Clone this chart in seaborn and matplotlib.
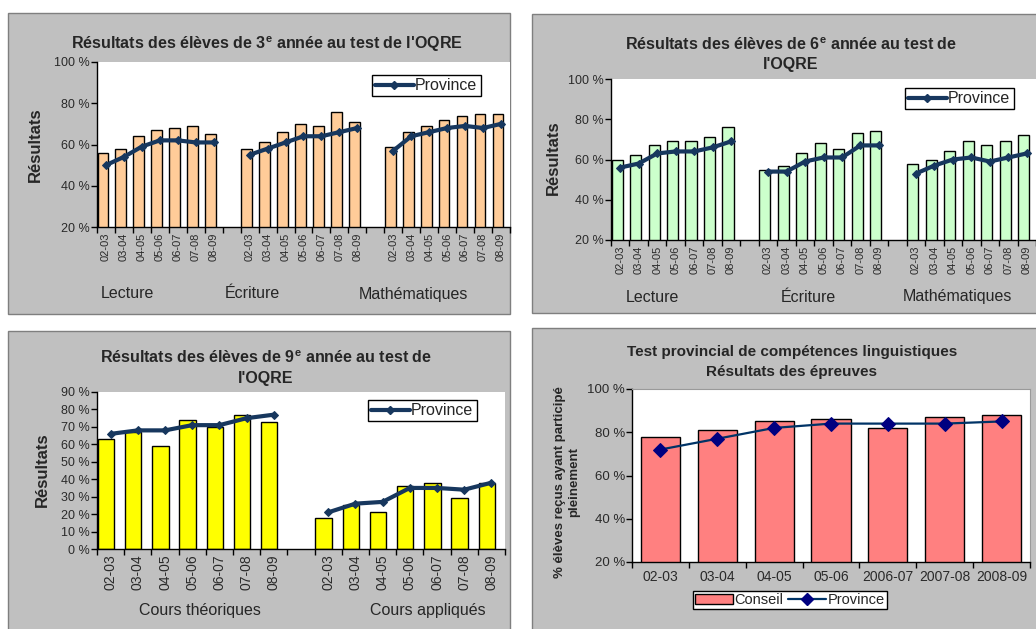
import matplotlib
matplotlib.use("Agg")
import matplotlib.pyplot as plt
import seaborn as sns
import pandas as pd
from matplotlib.patches import Rectangle, Patch
from matplotlib.lines import Line2D
from matplotlib.ticker import FuncFormatter

sns.set_style("ticks")
plt.rcParams["font.family"] = ["Liberation Sans", "DejaVu Sans"]
plt.rcParams["mathtext.fontset"] = "custom"
plt.rcParams["mathtext.rm"] = "Liberation Sans"
plt.rcParams["mathtext.bf"] = "Liberation Sans:bold"

W, H = 1036, 629
NAVY = "#17375E"
GRAY = "#C0C0C0"

years = ["02-03", "03-04", "04-05", "05-06", "06-07", "07-08", "08-09"]

# 3e annee
groups3 = ["Lecture", "Écriture", "Mathématiques"]
lecture3 = [56, 58, 64, 67, 68, 69, 65]
ecriture3 = [58, 61, 66, 70, 69, 76, 71]
maths3 = [59, 66, 69, 72, 74, 75, 75]
lecture3_prov = [50, 54, 59, 62, 62, 61, 61]
ecriture3_prov = [55, 58, 61, 64, 64, 66, 68]
maths3_prov = [57, 64, 66, 68, 69, 68, 70]

# 6e annee
lecture6 = [60, 62, 67, 69, 69, 71, 76]
ecriture6 = [55, 57, 63, 68, 65, 73, 74]
maths6 = [58, 60, 64, 69, 67, 69, 72]
lecture6_prov = [56, 58, 63, 64, 64, 66, 69]
ecriture6_prov = [54, 54, 59, 61, 61, 67, 67]
maths6_prov = [53, 57, 60, 61, 59, 61, 63]

# 9e annee
groups9 = ["Cours théoriques", "Cours appliqués"]
theo9 = [63, 67, 59, 74, 70, 77, 73]
appl9 = [18, 25, 21, 36, 38, 29, 38]
theo9_prov = [66, 68, 68, 71, 71, 75, 77]
appl9_prov = [21, 26, 27, 35, 35, 34, 38]

# TPCL
years_tpcl = ["02-03", "03-04", "04-05", "05-06", "2006-07", "2007-08", "2008-09"]
tpcl_conseil = [78, 81, 85, 86, 82, 87, 88]
tpcl_province = [72, 77, 82, 84, 84, 84, 85]

fig = plt.figure(figsize=(W / 100, H / 100), dpi=100)
fig.patch.set_facecolor("white")


def px_rect(l, t, r, b):
    return [l / W, 1 - b / H, (r - l) / W, (b - t) / H]


def panel_box(l, t, r, b):
    fig.add_artist(Rectangle((l / W, 1 - b / H), (r - l) / W, (b - t) / H,
                             transform=fig.transFigure, facecolor=GRAY,
                             edgecolor="#7F7F7F", linewidth=1, zorder=-10))


def ftext(x, y, s, **kw):
    fig.text(x / W, 1 - y / H, s, ha="center", va="center", **kw)


def pct(v, _):
    return f"{v:.0f} %"


def style_axes(ax, ylim, ystep, ytick_fs):
    ax.set_facecolor("white")
    ax.set_ylim(*ylim)
    ax.set_yticks(range(ylim[0], ylim[1] + 1, ystep))
    ax.yaxis.set_major_formatter(FuncFormatter(pct))
    ax.tick_params(axis="y", length=4, width=1, color="black", labelsize=ytick_fs,
                   labelcolor="#2A2A2A", pad=1)
    for s in ["top", "right"]:
        ax.spines[s].set_visible(False)
    for s in ["left", "bottom"]:
        ax.spines[s].set_color("black")
        ax.spines[s].set_linewidth(1)
    ax.set_xlabel("")
    ax.set_ylabel("")


def grouped_panel(rect, bar_lists, prov_lists, color, ylim, ystep, xlim,
                  xtick_fs, legend_xy):
    ax = fig.add_axes(rect)
    rows = []
    for gi, (bv, pv) in enumerate(zip(bar_lists, prov_lists)):
        for i, yr in enumerate(years):
            rows.append({"group": gi, "pos": gi * 8 + i, "year": yr,
                         "conseil": bv[i], "province": pv[i]})
    df = pd.DataFrame(rows)
    df["bar_x"] = df["pos"] - 0.17
    sns.barplot(data=df, x="bar_x", y="conseil", native_scale=True, width=0.6,
                color=color, saturation=1, edgecolor="black", linewidth=1,
                ax=ax)
    for gi, sub in df.groupby("group"):
        sns.lineplot(data=sub, x="pos", y="province", ax=ax, color=NAVY,
                     linewidth=3, marker="D", markersize=4, markeredgecolor=NAVY,
                     legend=False)
    style_axes(ax, ylim, ystep, 9)
    ax.set_xlim(*xlim)
    ax.set_xticks(df["pos"], labels=df["year"], rotation=90)
    ax.set_xticks([p + 0.5 for p in range(-1, int(df["pos"].max()) + 1)], minor=True)
    ax.tick_params(axis="x", which="major", length=0, labelsize=xtick_fs,
                   labelcolor="#2A2A2A", pad=4)
    ax.tick_params(axis="x", which="minor", length=4, width=1, color="black")
    handle = Line2D([], [], color=NAVY, linewidth=3, marker="D", markersize=4)
    ax.legend(handles=[handle], labels=["Province"], loc="upper left",
              bbox_to_anchor=(legend_xy[0] / W, 1 - legend_xy[1] / H),
              bbox_transform=fig.transFigure, frameon=True, fancybox=False,
              edgecolor="black", framealpha=1, fontsize=11.5, handlelength=2.4,
              borderpad=0.2, handletextpad=0.1, borderaxespad=0)
    ax.get_legend().get_frame().set_linewidth(1)
    return ax


# panels background
panel_box(8, 13, 510, 314)
panel_box(532, 14, 1040, 313)
panel_box(8, 331, 510, 635)
panel_box(532, 328, 1040, 635)

# 3e annee
grouped_panel(px_rect(97, 62, 510, 227), [lecture3, ecriture3, maths3],
              [lecture3_prov, ecriture3_prov, maths3_prov], "#FFCC99",
              (20, 100), 20, (-0.5, 22.15), 8, (372, 75))
ftext(267, 44, r"Résultats des élèves de $\mathbf{3^{e}}$ année au test de l'OQRE",
      fontsize=11.5, fontweight="bold")
ftext(35, 145, "Résultats", rotation=90, fontsize=12, fontweight="bold")
for name, x in zip(groups3, [127, 252, 413]):
    ftext(x, 294, name, fontsize=11.5)

# 6e annee
grouped_panel(px_rect(611, 79, 1036, 240), [lecture6, ecriture6, maths6],
              [lecture6_prov, ecriture6_prov, maths6_prov], "#CCFFCC",
              (20, 100), 20, (-0.5, 22.35), 8, (905, 88))
ftext(791, 45, r"Résultats des élèves de $\mathbf{6^{e}}$ année au test de",
      fontsize=11.5, fontweight="bold")
ftext(791, 65, "l'OQRE", fontsize=11.5, fontweight="bold")
ftext(553, 158, "Résultats", rotation=90, fontsize=12, fontweight="bold")
for name, x in zip(groups3, [652, 808, 957]):
    ftext(x, 297, name, fontsize=11.5)

# 9e annee
grouped_panel(px_rect(97, 392, 505, 549), [theo9, appl9],
              [theo9_prov, appl9_prov], "#FFFF00",
              (0, 90), 10, (-0.5, 14.13), 10, (368, 400))
ftext(266, 358, r"Résultats des élèves de $\mathbf{9^{e}}$ année au test de",
      fontsize=11.5, fontweight="bold")
ftext(266, 378, "l'OQRE", fontsize=11.5, fontweight="bold")
ftext(42, 470, "Résultats", rotation=90, fontsize=12, fontweight="bold")
for name, x in zip(groups9, [200, 428]):
    ftext(x, 611, name, fontsize=11.5)

# TPCL
ax4 = fig.add_axes(px_rect(632, 389, 1030, 562))
df4 = pd.DataFrame({"pos": range(len(years_tpcl)), "year": years_tpcl,
                    "conseil": tpcl_conseil, "province": tpcl_province})
sns.barplot(data=df4, x="pos", y="conseil", native_scale=True, width=0.69,
            color="#FF8080", saturation=1, edgecolor="black", linewidth=1, ax=ax4)
sns.lineplot(data=df4, x="pos", y="province", ax=ax4, color="#003366",
             linewidth=1.6, marker="D", markersize=7, markerfacecolor="#000080",
             markeredgecolor="#000080", legend=False)
style_axes(ax4, (20, 100), 20, 9.5)
ax4.set_xlim(-0.5, 6.5)
ax4.set_xticks(df4["pos"], labels=df4["year"])
ax4.set_xticks([p + 0.5 for p in range(-1, 7)], minor=True)
ax4.tick_params(axis="x", which="major", length=0, labelsize=10,
                labelcolor="#2A2A2A", pad=6)
ax4.tick_params(axis="x", which="minor", length=4, width=1, color="black")
for s in ["top", "right"]:
    ax4.spines[s].set_visible(True)
    ax4.spines[s].set_color("#9A9A9A")
h_bar = Patch(facecolor="#FF8080", edgecolor="black")
h_line = Line2D([], [], color="#003366", linewidth=1.6, marker="D", markersize=6,
                markerfacecolor="#000080", markeredgecolor="#000080")
leg = ax4.legend(handles=[h_bar, h_line], labels=["Conseil", "Province"], ncol=2,
                 loc="upper left", bbox_to_anchor=(693 / W, 1 - 591 / H),
                 bbox_transform=fig.transFigure, frameon=True, fancybox=False,
                 edgecolor="black", framealpha=1, fontsize=10.5, handlelength=2.6,
                 borderpad=0.15, handletextpad=0.1, columnspacing=0.3,
                 borderaxespad=0)
leg.get_frame().set_linewidth(1)
ftext(792, 352, "Test provincial de compétences linguistiques",
      fontsize=11, fontweight="bold")
ftext(792, 372, "Résultats des épreuves", fontsize=11, fontweight="bold")
ftext(567, 482, "% élèves reçus ayant participé\npleinement", rotation=90,
      fontsize=9.5, fontweight="bold", multialignment="center")

fig.savefig("out.png", dpi=100)
